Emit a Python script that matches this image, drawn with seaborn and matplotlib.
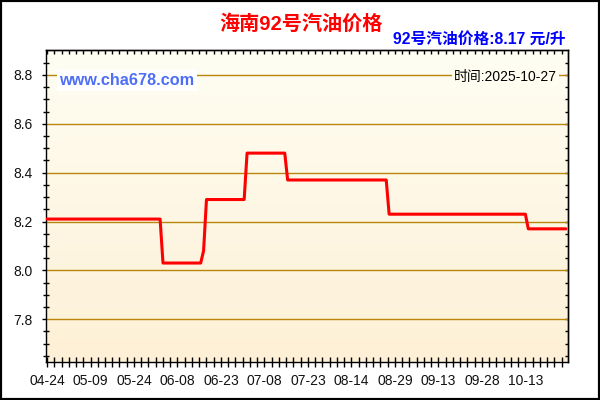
import numpy as np
import pandas as pd
import matplotlib
matplotlib.use("Agg")
import matplotlib.pyplot as plt
from matplotlib.colors import LinearSegmentedColormap
from matplotlib.patches import Rectangle
import seaborn as sns

# ---- data ----
tick_labels = ["04-24", "05-09", "05-24", "06-08", "06-23", "07-08",
               "07-23", "08-14", "08-29", "09-13", "09-28", "10-13"]
price_levels = [8.21, 8.03, 8.08, 8.29, 8.48, 8.37, 8.23, 8.17]
level_days = [40, 14, 1, 14, 14, 35, 48, 14]   # number of daily records at each level
current_price = 8.17
update_date = "2025-10-27"
title = "海南92号汽油价格"

prices = np.repeat(price_levels, level_days)
df = pd.DataFrame({"idx": np.arange(len(prices)), "price": prices})

sns.set_style("ticks")
plt.rcParams["font.family"] = ["Liberation Sans", "Noto Sans CJK SC", "DejaVu Sans"]

W, H = 600, 400
fig = plt.figure(figsize=(6, 4), dpi=100)
fig.patch.set_facecolor("white")
L, R, T, B = 46, 568.3, 50.3, 361.7
ax = fig.add_axes([L / W, 1 - B / H, (R - L) / W, (B - T) / H])

# gradient background
cmap = LinearSegmentedColormap.from_list("bg", ["#FFFEF3", "#FDF0D6"])
grad = np.linspace(0, 1, 256).reshape(-1, 1)
ax.imshow(grad, cmap=cmap, extent=[0, 1, 0, 1], transform=ax.transAxes,
          aspect="auto", origin="upper", zorder=0)

sns.lineplot(data=df, x="idx", y="price", color="#FF0000", linewidth=2.2, ax=ax, zorder=3)

ax.set_xlim(-0.35, 179.8)
ax.set_ylim(7.626, 8.901)
ax.set_xlabel("")
ax.set_ylabel("")

# grid
ax.set_yticks([7.8, 8.0, 8.2, 8.4, 8.6, 8.8])
ax.set_yticklabels(["7.8", "8.0", "8.2", "8.4", "8.6", "8.8"])
ax.set_yticks(np.arange(7.65, 8.9, 0.05), minor=True)
ax.grid(axis="y", which="major", color="#B8860B", linewidth=1.0, zorder=1)
ax.set_axisbelow(True)

ax.set_xticks(np.arange(0, 166, 15))
ax.set_xticklabels(tick_labels)
ax.set_xticks(np.arange(0, 180, 2.5), minor=True)

for s in ax.spines.values():
    s.set_color("black")
    s.set_linewidth(1.0)
    s.set_visible(True)

ax.tick_params(axis="x", which="both", direction="inout", length=6.5, width=1.0,
               color="black", labelsize=10, pad=5.5, labelcolor="#111111")
ax.tick_params(axis="y", which="major", direction="out", length=3.0, width=1.0,
               color="black", labelsize=10, pad=6.5, labelcolor="#111111")
ax.tick_params(axis="y", which="minor", direction="inout", length=4.5, width=1.0, color="black")

# top ticks (inward)
secx = ax.secondary_xaxis("top")
secx.set_xticks(np.arange(0, 180, 2.5))
secx.set_xticklabels([])
secx.tick_params(direction="in", length=3.2, width=1.0, color="black")
secx.spines["top"].set_linewidth(1.0)

# right ticks (inward)
secy = ax.secondary_yaxis("right")
secy.set_yticks(np.arange(7.65, 8.9, 0.05))
secy.set_yticklabels([])
secy.tick_params(direction="in", length=2.0, width=1.0, color="black")
secy.spines["right"].set_linewidth(1.0)

# texts
fig.text(300.5 / W, 1 - 23.8 / H, title, ha="center", va="center",
         color="#FF0000", fontsize=14.5, fontweight="bold")
fig.text(566 / W, 1 - 39.3 / H, f"92号汽油价格:{current_price:.2f} 元/升",
         ha="right", va="center", color="#0000FF", fontsize=11.3, fontweight="bold")
fig.text(59.3 / W, 1 - 80.5 / H, "www.cha678.com", ha="left", va="center",
         color="#4D6EF5", fontsize=11.7, fontweight="bold",
         bbox=dict(facecolor="white", edgecolor="none", pad=2))
fig.text(556.8 / W, 1 - 77.5 / H, f"时间:{update_date}", ha="right", va="center",
         color="black", fontsize=10,
         bbox=dict(facecolor="#FFFDF0", edgecolor="none", pad=1.5))

fig.patches.append(Rectangle((0, 0), 1, 1, transform=fig.transFigure, fill=False,
                             edgecolor="black", linewidth=3))

fig.savefig("out.png", dpi=100)
